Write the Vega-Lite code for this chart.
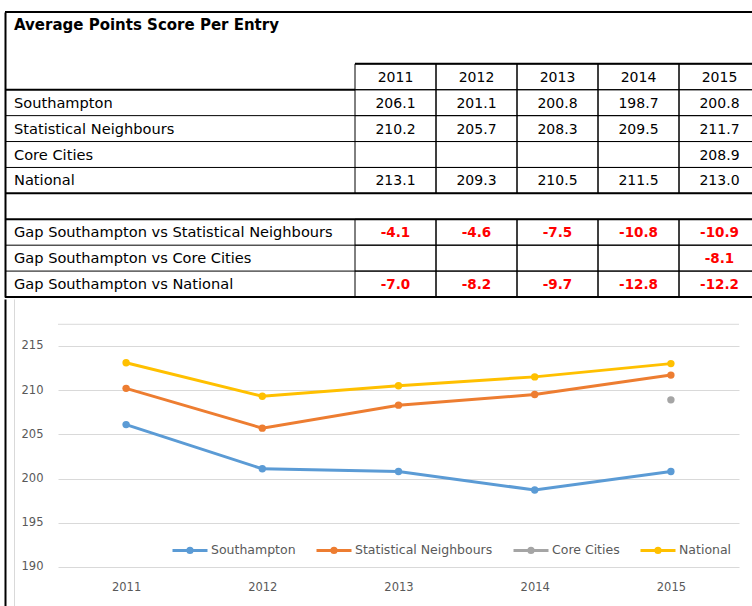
{
  "$schema": "https://vega.github.io/schema/vega-lite/v6.json",
  "background": "white",
  "padding": {"left": 4, "top": 11, "right": 0, "bottom": 0},
  "config": {"view": {"stroke": null}, "font": "DejaVu Sans"},
  "datasets": {
    "rows": [
      {"row": "title", "text": "Average Points Score Per Entry", "kind": "title"},
      {"row": "Southampton", "text": "Southampton", "kind": "area"},
      {"row": "Statistical Neighbours", "text": "Statistical Neighbours", "kind": "area"},
      {"row": "Core Cities", "text": "Core Cities", "kind": "area"},
      {"row": "National", "text": "National", "kind": "area"},
      {"row": "Gap Southampton vs Statistical Neighbours", "text": "Gap Southampton vs Statistical Neighbours", "kind": "gap"},
      {"row": "Gap Southampton vs Core Cities", "text": "Gap Southampton vs Core Cities", "kind": "gap"},
      {"row": "Gap Southampton vs National", "text": "Gap Southampton vs National", "kind": "gap"}
    ],
    "cells": [
      {"row": "header", "year": "2011", "text": "2011", "kind": "header"},
      {"row": "header", "year": "2012", "text": "2012", "kind": "header"},
      {"row": "header", "year": "2013", "text": "2013", "kind": "header"},
      {"row": "header", "year": "2014", "text": "2014", "kind": "header"},
      {"row": "header", "year": "2015", "text": "2015", "kind": "header"},
      {"row": "Southampton", "year": "2011", "text": "206.1", "kind": "area"},
      {"row": "Southampton", "year": "2012", "text": "201.1", "kind": "area"},
      {"row": "Southampton", "year": "2013", "text": "200.8", "kind": "area"},
      {"row": "Southampton", "year": "2014", "text": "198.7", "kind": "area"},
      {"row": "Southampton", "year": "2015", "text": "200.8", "kind": "area"},
      {"row": "Statistical Neighbours", "year": "2011", "text": "210.2", "kind": "area"},
      {"row": "Statistical Neighbours", "year": "2012", "text": "205.7", "kind": "area"},
      {"row": "Statistical Neighbours", "year": "2013", "text": "208.3", "kind": "area"},
      {"row": "Statistical Neighbours", "year": "2014", "text": "209.5", "kind": "area"},
      {"row": "Statistical Neighbours", "year": "2015", "text": "211.7", "kind": "area"},
      {"row": "Core Cities", "year": "2011", "text": "", "kind": "area"},
      {"row": "Core Cities", "year": "2012", "text": "", "kind": "area"},
      {"row": "Core Cities", "year": "2013", "text": "", "kind": "area"},
      {"row": "Core Cities", "year": "2014", "text": "", "kind": "area"},
      {"row": "Core Cities", "year": "2015", "text": "208.9", "kind": "area"},
      {"row": "National", "year": "2011", "text": "213.1", "kind": "area"},
      {"row": "National", "year": "2012", "text": "209.3", "kind": "area"},
      {"row": "National", "year": "2013", "text": "210.5", "kind": "area"},
      {"row": "National", "year": "2014", "text": "211.5", "kind": "area"},
      {"row": "National", "year": "2015", "text": "213.0", "kind": "area"},
      {"row": "Gap Southampton vs Statistical Neighbours", "year": "2011", "text": "-4.1", "kind": "gap"},
      {"row": "Gap Southampton vs Statistical Neighbours", "year": "2012", "text": "-4.6", "kind": "gap"},
      {"row": "Gap Southampton vs Statistical Neighbours", "year": "2013", "text": "-7.5", "kind": "gap"},
      {"row": "Gap Southampton vs Statistical Neighbours", "year": "2014", "text": "-10.8", "kind": "gap"},
      {"row": "Gap Southampton vs Statistical Neighbours", "year": "2015", "text": "-10.9", "kind": "gap"},
      {"row": "Gap Southampton vs Core Cities", "year": "2011", "text": "", "kind": "gap"},
      {"row": "Gap Southampton vs Core Cities", "year": "2012", "text": "", "kind": "gap"},
      {"row": "Gap Southampton vs Core Cities", "year": "2013", "text": "", "kind": "gap"},
      {"row": "Gap Southampton vs Core Cities", "year": "2014", "text": "", "kind": "gap"},
      {"row": "Gap Southampton vs Core Cities", "year": "2015", "text": "-8.1", "kind": "gap"},
      {"row": "Gap Southampton vs National", "year": "2011", "text": "-7.0", "kind": "gap"},
      {"row": "Gap Southampton vs National", "year": "2012", "text": "-8.2", "kind": "gap"},
      {"row": "Gap Southampton vs National", "year": "2013", "text": "-9.7", "kind": "gap"},
      {"row": "Gap Southampton vs National", "year": "2014", "text": "-12.8", "kind": "gap"},
      {"row": "Gap Southampton vs National", "year": "2015", "text": "-12.2", "kind": "gap"}
    ],
    "series": [
      {"year": "2011", "series": "Southampton", "value": 206.1},
      {"year": "2012", "series": "Southampton", "value": 201.1},
      {"year": "2013", "series": "Southampton", "value": 200.8},
      {"year": "2014", "series": "Southampton", "value": 198.7},
      {"year": "2015", "series": "Southampton", "value": 200.8},
      {"year": "2011", "series": "Statistical Neighbours", "value": 210.2},
      {"year": "2012", "series": "Statistical Neighbours", "value": 205.7},
      {"year": "2013", "series": "Statistical Neighbours", "value": 208.3},
      {"year": "2014", "series": "Statistical Neighbours", "value": 209.5},
      {"year": "2015", "series": "Statistical Neighbours", "value": 211.7},
      {"year": "2015", "series": "Core Cities", "value": 208.9},
      {"year": "2011", "series": "National", "value": 213.1},
      {"year": "2012", "series": "National", "value": 209.3},
      {"year": "2013", "series": "National", "value": 210.5},
      {"year": "2014", "series": "National", "value": 211.5},
      {"year": "2015", "series": "National", "value": 213.0}
    ]
  },
  "columns": 1,
  "align": "none",
  "spacing": 0,
  "resolve": {"legend": {"color": "independent"}},
  "concat": [
    {
      "hconcat": [
        {
          "width": 350,
          "height": 285,
          "data": {"name": "rows"},
          "layer": [
            {
              "transform": [{"filter": "datum.kind !== 'title'"}],
              "mark": {"type": "text", "align": "left", "baseline": "middle", "dx": 9, "dy": 1, "fontSize": 14.6, "font": "DejaVu Sans", "color": "black"},
              "encoding": {
                "y": {"field": "row", "type": "nominal", "scale": {"type": "band", "domain": ["title", "blank1", "header", "Southampton", "Statistical Neighbours", "Core Cities", "National", "blank2", "Gap Southampton vs Statistical Neighbours", "Gap Southampton vs Core Cities", "Gap Southampton vs National"], "paddingInner": 0, "paddingOuter": 0}, "axis": {"domain": true, "domainColor": "black", "domainWidth": 2, "labels": false, "ticks": false, "grid": false, "title": null}},
                "x": {"datum": "area", "type": "nominal", "bandPosition": 0, "scale": {"type": "band", "paddingInner": 0, "paddingOuter": 0}, "axis": null},
                "text": {"field": "text"}
              }
            },
            {
              "transform": [{"filter": "datum.kind === 'title'"}],
              "mark": {"type": "text", "align": "left", "baseline": "middle", "dx": 9, "dy": 0, "fontSize": 15, "font": "DejaVu Sans", "fontWeight": "bold", "color": "black"},
              "encoding": {
                "y": {"field": "row", "type": "nominal", "scale": {"type": "band", "domain": ["title", "blank1", "header", "Southampton", "Statistical Neighbours", "Core Cities", "National", "blank2", "Gap Southampton vs Statistical Neighbours", "Gap Southampton vs Core Cities", "Gap Southampton vs National"], "paddingInner": 0, "paddingOuter": 0}, "axis": {"domain": true, "domainColor": "black", "domainWidth": 2, "labels": false, "ticks": false, "grid": false, "title": null}},
                "x": {"datum": "area", "type": "nominal", "bandPosition": 0, "scale": {"type": "band", "paddingInner": 0, "paddingOuter": 0}, "axis": null},
                "text": {"field": "text"}
              }
            },
            {
              "data": {"values": [{"row": "Statistical Neighbours"}, {"row": "Core Cities"}, {"row": "National"}, {"row": "Gap Southampton vs Core Cities"}, {"row": "Gap Southampton vs National"}]},
              "mark": {"type": "rule", "color": "black", "strokeWidth": 1},
              "encoding": {
                "y": {"field": "row", "type": "nominal", "bandPosition": 0, "scale": {"type": "band", "domain": ["title", "blank1", "header", "Southampton", "Statistical Neighbours", "Core Cities", "National", "blank2", "Gap Southampton vs Statistical Neighbours", "Gap Southampton vs Core Cities", "Gap Southampton vs National"], "paddingInner": 0, "paddingOuter": 0}, "axis": {"domain": true, "domainColor": "black", "domainWidth": 2, "labels": false, "ticks": false, "grid": false, "title": null}}
              }
            },
            {
              "data": {"values": [{"row": "title"}, {"row": "Southampton"}, {"row": "blank2"}, {"row": "Gap Southampton vs Statistical Neighbours"}]},
              "mark": {"type": "rule", "color": "black", "strokeWidth": 2},
              "encoding": {
                "y": {"field": "row", "type": "nominal", "bandPosition": 0, "scale": {"type": "band", "domain": ["title", "blank1", "header", "Southampton", "Statistical Neighbours", "Core Cities", "National", "blank2", "Gap Southampton vs Statistical Neighbours", "Gap Southampton vs Core Cities", "Gap Southampton vs National"], "paddingInner": 0, "paddingOuter": 0}, "axis": {"domain": true, "domainColor": "black", "domainWidth": 2, "labels": false, "ticks": false, "grid": false, "title": null}}
              }
            },
            {
              "data": {"values": [{"row": "Gap Southampton vs National"}]},
              "mark": {"type": "rule", "color": "black", "strokeWidth": 2},
              "encoding": {
                "y": {"field": "row", "type": "nominal", "bandPosition": 1, "scale": {"type": "band", "domain": ["title", "blank1", "header", "Southampton", "Statistical Neighbours", "Core Cities", "National", "blank2", "Gap Southampton vs Statistical Neighbours", "Gap Southampton vs Core Cities", "Gap Southampton vs National"], "paddingInner": 0, "paddingOuter": 0}, "axis": {"domain": true, "domainColor": "black", "domainWidth": 2, "labels": false, "ticks": false, "grid": false, "title": null}}
              }
            }
          ]
        },
        {
          "width": 405,
          "height": 285,
          "data": {"name": "cells"},
          "layer": [
            {
              "mark": {"type": "rect", "fill": "transparent", "stroke": "black", "strokeWidth": 1},
              "encoding": {
                "x": {"field": "year", "type": "ordinal", "scale": {"type": "band", "domain": ["2011", "2012", "2013", "2014", "2015"], "paddingInner": 0, "paddingOuter": 0}, "axis": null},
                "y": {"field": "row", "type": "nominal", "scale": {"type": "band", "domain": ["title", "blank1", "header", "Southampton", "Statistical Neighbours", "Core Cities", "National", "blank2", "Gap Southampton vs Statistical Neighbours", "Gap Southampton vs Core Cities", "Gap Southampton vs National"], "paddingInner": 0, "paddingOuter": 0}, "axis": null}
              }
            },
            {
              "transform": [{"filter": "datum.kind !== 'gap'"}],
              "mark": {"type": "text", "align": "center", "baseline": "middle", "dy": 1, "fontSize": 14, "font": "DejaVu Sans", "color": "black"},
              "encoding": {
                "x": {"field": "year", "type": "ordinal", "scale": {"type": "band", "domain": ["2011", "2012", "2013", "2014", "2015"], "paddingInner": 0, "paddingOuter": 0}, "axis": null},
                "y": {"field": "row", "type": "nominal", "scale": {"type": "band", "domain": ["title", "blank1", "header", "Southampton", "Statistical Neighbours", "Core Cities", "National", "blank2", "Gap Southampton vs Statistical Neighbours", "Gap Southampton vs Core Cities", "Gap Southampton vs National"], "paddingInner": 0, "paddingOuter": 0}, "axis": null},
                "text": {"field": "text"}
              }
            },
            {
              "transform": [{"filter": "datum.kind === 'gap'"}],
              "mark": {"type": "text", "align": "center", "baseline": "middle", "dy": 1, "fontSize": 13.5, "font": "DejaVu Sans", "fontWeight": "bold", "color": "#FF0000"},
              "encoding": {
                "x": {"field": "year", "type": "ordinal", "scale": {"type": "band", "domain": ["2011", "2012", "2013", "2014", "2015"], "paddingInner": 0, "paddingOuter": 0}, "axis": null},
                "y": {"field": "row", "type": "nominal", "scale": {"type": "band", "domain": ["title", "blank1", "header", "Southampton", "Statistical Neighbours", "Core Cities", "National", "blank2", "Gap Southampton vs Statistical Neighbours", "Gap Southampton vs Core Cities", "Gap Southampton vs National"], "paddingInner": 0, "paddingOuter": 0}, "axis": null},
                "text": {"field": "text"}
              }
            },
            {
              "data": {"values": [{"row": "title"}, {"row": "header"}, {"row": "blank2"}, {"row": "Gap Southampton vs Statistical Neighbours"}]},
              "mark": {"type": "rule", "color": "black", "strokeWidth": 2},
              "encoding": {
                "y": {"field": "row", "type": "nominal", "bandPosition": 0, "scale": {"type": "band", "domain": ["title", "blank1", "header", "Southampton", "Statistical Neighbours", "Core Cities", "National", "blank2", "Gap Southampton vs Statistical Neighbours", "Gap Southampton vs Core Cities", "Gap Southampton vs National"], "paddingInner": 0, "paddingOuter": 0}, "axis": null}
              }
            },
            {
              "data": {"values": [{"row": "Gap Southampton vs National"}]},
              "mark": {"type": "rule", "color": "black", "strokeWidth": 2},
              "encoding": {
                "y": {"field": "row", "type": "nominal", "bandPosition": 1, "scale": {"type": "band", "domain": ["title", "blank1", "header", "Southampton", "Statistical Neighbours", "Core Cities", "National", "blank2", "Gap Southampton vs Statistical Neighbours", "Gap Southampton vs Core Cities", "Gap Southampton vs National"], "paddingInner": 0, "paddingOuter": 0}, "axis": null}
              }
            }
          ]
        }
      ],
      "spacing": 0,
      "bounds": "flush"
    },
    {
      "hconcat": [
        {
          "width": 1,
          "height": 307,
          "data": {"values": [{"v": 0}]},
          "mark": {"type": "rule", "opacity": 0},
          "encoding": {
            "y": {"field": "v", "type": "quantitative", "scale": {"domain": [-1, 1]}, "axis": {"orient": "left", "offset": -9, "domain": true, "domainColor": "#D9D9D9", "domainWidth": 1, "labels": false, "ticks": false, "grid": false, "title": null}}
          }
        },
        {
          "width": 681,
          "height": 307,
          "data": {"name": "series"},
          "resolve": {"axis": {"y": "independent"}},
          "layer": [
            {
              "mark": {"type": "line", "strokeWidth": 3},
              "encoding": {
                "x": {"field": "year", "type": "ordinal", "axis": {"orient": "bottom", "offset": -27, "labelPadding": 2, "domain": false, "ticks": false, "tickSize": 0, "labelColor": "#595959", "labelFontSize": 11.5, "labelFont": "DejaVu Sans", "labelAngle": 0, "title": null, "grid": false}},
                "y": {"field": "value", "type": "quantitative", "scale": {"domain": [185.58, 220.31], "nice": false, "zero": false}, "axis": {"orient": "left", "minExtent": 54, "values": [190, 195, 200, 205, 210, 215], "grid": true, "gridColor": "#D9D9D9", "gridWidth": 1, "domain": false, "ticks": false, "tickSize": 0, "labelPadding": 15, "labelColor": "#595959", "labelFontSize": 11.5, "labelFont": "DejaVu Sans", "title": null}},
                "color": {"field": "series", "type": "nominal", "scale": {"domain": ["Southampton", "Statistical Neighbours", "Core Cities", "National"], "range": ["#5B9BD5", "#ED7D31", "#A5A5A5", "#FFC000"]}, "legend": {"orient": "none", "legendX": 113, "legendY": 232, "direction": "horizontal", "title": null, "symbolType": "M-1,0H1M0.12,0A0.12,0.12,0,1,1,-0.12,0A0.12,0.12,0,1,1,0.12,0", "symbolSize": 1225, "symbolStrokeWidth": 3, "labelFontSize": 12.5, "labelColor": "#595959", "labelFont": "DejaVu Sans", "labelOffset": 2, "columnPadding": 14, "encode": {"symbols": {"update": {"fill": {"scale": "color", "field": "value"}, "stroke": {"scale": "color", "field": "value"}, "strokeWidth": {"value": 3}, "opacity": {"value": 1}}}}}}
              }
            },
            {
              "mark": {"type": "point", "filled": true, "size": 55, "opacity": 1},
              "encoding": {
                "x": {"field": "year", "type": "ordinal", "axis": {"orient": "bottom", "offset": -27, "labelPadding": 2, "domain": false, "ticks": false, "tickSize": 0, "labelColor": "#595959", "labelFontSize": 11.5, "labelFont": "DejaVu Sans", "labelAngle": 0, "title": null, "grid": false}},
                "y": {"field": "value", "type": "quantitative", "scale": {"domain": [185.58, 220.31], "nice": false, "zero": false}, "axis": null},
                "color": {"field": "series", "type": "nominal", "scale": {"domain": ["Southampton", "Statistical Neighbours", "Core Cities", "National"], "range": ["#5B9BD5", "#ED7D31", "#A5A5A5", "#FFC000"]}, "legend": {"orient": "none", "legendX": 113, "legendY": 232, "direction": "horizontal", "title": null, "symbolType": "M-1,0H1M0.12,0A0.12,0.12,0,1,1,-0.12,0A0.12,0.12,0,1,1,0.12,0", "symbolSize": 1225, "symbolStrokeWidth": 3, "labelFontSize": 12.5, "labelColor": "#595959", "labelFont": "DejaVu Sans", "labelOffset": 2, "columnPadding": 14, "encode": {"symbols": {"update": {"fill": {"scale": "color", "field": "value"}, "stroke": {"scale": "color", "field": "value"}, "strokeWidth": {"value": 3}, "opacity": {"value": 1}}}}}}
              }
            },
            {
              "data": {"values": [{"v": 217.45}]},
              "mark": {"type": "rule", "color": "#D9D9D9", "strokeWidth": 1},
              "encoding": {
                "y": {"field": "v", "type": "quantitative", "scale": {"domain": [185.58, 220.31], "nice": false, "zero": false}, "axis": {"orient": "left", "domain": true, "domainColor": "black", "domainWidth": 2, "offset": 53, "labels": false, "ticks": false, "grid": false, "title": null}}
              }
            }
          ]
        }
      ],
      "spacing": 52,
      "bounds": "flush",
      "resolve": {"legend": {"color": "independent"}}
    }
  ]
}
